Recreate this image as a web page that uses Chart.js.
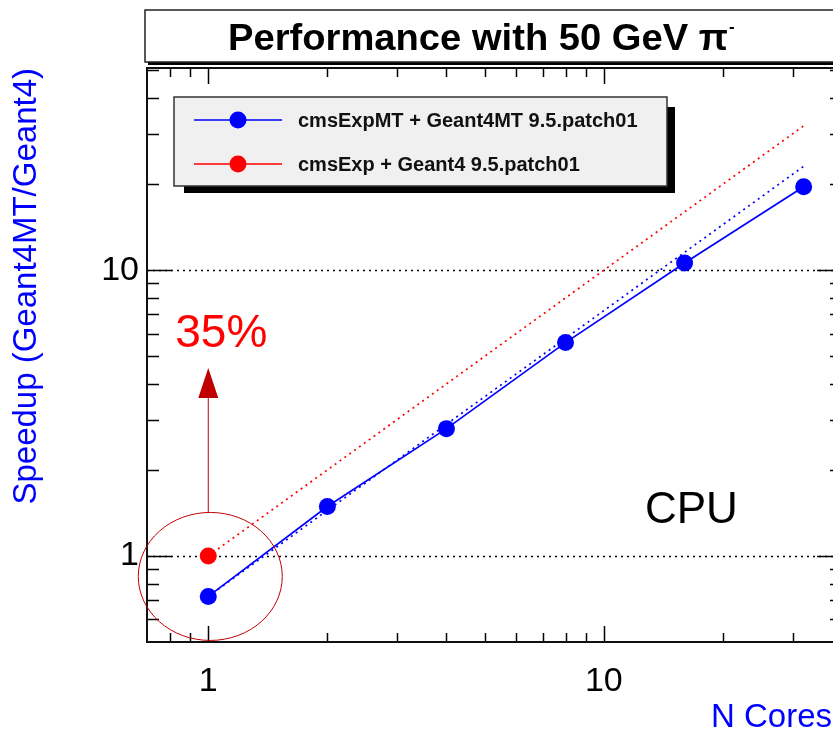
<!DOCTYPE html>
<html>
<head>
<meta charset="utf-8">
<script src="https://cdn.jsdelivr.net/npm/chart.js@4.4.1/dist/chart.umd.min.js"></script>
<style>
  html, body { margin: 0; padding: 0; background: #fff; overflow: hidden; }
  #wrap { width: 861px; height: 730px; }
</style>
</head>
<body>
<div id="wrap"><canvas id="chart" width="861" height="730"></canvas></div>
<script>
// measured speedup vs number of cores
const cores = [1, 2, 4, 8, 16, 32];
const speedupMT = [0.722, 1.49, 2.79, 5.58, 10.6, 19.6];
const seqCores = [1];
const speedupSeq = [1.0];

// ideal (linear) scaling guides, dotted
const idealCores = [1, 32];
const idealSeq = [1, 32];
const idealMT = [0.722, 23.1];

// axes
const xTickLabels = [1, 10];
const yTickLabels = [1, 10];
const xMinorTicks = [0.8, 0.9, 2, 3, 4, 5, 6, 7, 8, 9, 20, 30];
const yMinorTicks = [0.6, 0.7, 0.8, 0.9, 2, 3, 4, 5, 6, 7, 8, 9, 20, 30, 40, 50];

const seriesNames = ["cmsExpMT + Geant4MT 9.5.patch01", "cmsExp + Geant4 9.5.patch01"];
const titleText = "Performance with 50 GeV \u03c0";
const xTitle = "N Cores";

const FONT = '"Liberation Sans", Arial, Helvetica, sans-serif';
const BLUE = "#0000ff";
const RED = "#ff0000";
const DARKRED = "#c00000";

const pairs = (xs, ys) => xs.map((x, i) => ({ x, y: ys[i] }));

function drawTicks(ctx, a, x, y) {
  ctx.strokeStyle = "#000";
  ctx.lineWidth = 1.5;
  ctx.beginPath();
  const xt = (v, len) => {
    const px = Math.round(x.getPixelForValue(v)) + 0.5;
    ctx.moveTo(px, a.bottom); ctx.lineTo(px, a.bottom - len);
    ctx.moveTo(px, a.top); ctx.lineTo(px, a.top + len);
  };
  const yt = (v, len) => {
    const py = Math.round(y.getPixelForValue(v)) + 0.5;
    ctx.moveTo(a.left, py); ctx.lineTo(a.left + len, py);
    ctx.moveTo(a.right, py); ctx.lineTo(a.right - len, py);
  };
  xTickLabels.forEach(v => xt(v, 16));
  xMinorTicks.forEach(v => xt(v, 9));
  yTickLabels.forEach(v => yt(v, 25));
  yMinorTicks.forEach(v => yt(v, 12));
  ctx.stroke();
}

const rootStyle = {
  id: "rootStyle",
  beforeDatasetsDraw(chart) {
    const { ctx, chartArea: a, scales: { y } } = chart;
    ctx.save();
    ctx.strokeStyle = "#000";
    ctx.lineWidth = 1.5;
    ctx.setLineDash([2, 4]);
    yTickLabels.forEach(v => {
      const py = Math.round(y.getPixelForValue(v)) + 0.5;
      ctx.beginPath(); ctx.moveTo(a.left, py); ctx.lineTo(a.right, py); ctx.stroke();
    });
    ctx.restore();
  },
  afterDatasetsDraw(chart) {
    const { ctx, chartArea: a, scales: { x, y } } = chart;
    ctx.save();
    drawTicks(ctx, a, x, y);
    ctx.lineWidth = 2;
    ctx.strokeStyle = "#111";
    ctx.strokeRect(a.left, a.top, a.right - a.left, a.bottom - a.top);
    ctx.restore();
  },
  afterDraw(chart) {
    const { ctx, scales: { x, y } } = chart;
    ctx.save();

    // title box
    const tb = { l: 145, t: 10, r: chart.width + 5, b: 62 };
    ctx.fillStyle = "#000";
    ctx.fillRect(tb.l + 3, tb.t + 3, tb.r - tb.l, tb.b - tb.t);
    ctx.fillStyle = "#fff";
    ctx.fillRect(tb.l, tb.t, tb.r - tb.l, tb.b - tb.t);
    ctx.strokeStyle = "#222";
    ctx.lineWidth = 1.5;
    ctx.strokeRect(tb.l, tb.t, tb.r - tb.l, tb.b - tb.t);
    ctx.fillStyle = "#000";
    ctx.font = "bold 36px " + FONT;
    const w = ctx.measureText(titleText).width;
    ctx.save();
    ctx.translate(228, 50);
    ctx.scale(500 / w, 1);
    ctx.textAlign = "left";
    ctx.textBaseline = "alphabetic";
    ctx.fillText(titleText, 0, 0);
    ctx.font = "bold 16px " + FONT;
    ctx.fillText("-", w + 1, -18);
    ctx.restore();

    // x axis title, right aligned to the visible edge
    ctx.fillStyle = BLUE;
    ctx.font = "33px " + FONT;
    ctx.textAlign = "right";
    ctx.textBaseline = "alphabetic";
    ctx.fillText(xTitle, 832, 727);

    // legend
    const lg = { l: 174, t: 97, w: 493, h: 89 };
    ctx.fillStyle = "#000";
    ctx.fillRect(lg.l + 10, lg.t + 10, lg.w - 2, lg.h - 3);
    ctx.fillStyle = "#f0f0f0";
    ctx.fillRect(lg.l, lg.t, lg.w, lg.h);
    ctx.strokeStyle = "#333";
    ctx.lineWidth = 1.5;
    ctx.strokeRect(lg.l, lg.t, lg.w, lg.h);
    const entries = [
      { name: seriesNames[0], color: BLUE, y: 120 },
      { name: seriesNames[1], color: RED, y: 164 }
    ];
    entries.forEach(e => {
      ctx.strokeStyle = e.color;
      ctx.lineWidth = 1.5;
      ctx.beginPath(); ctx.moveTo(194, e.y); ctx.lineTo(282, e.y); ctx.stroke();
      ctx.fillStyle = e.color;
      ctx.beginPath(); ctx.arc(238, e.y, 8.5, 0, Math.PI * 2); ctx.fill();
      ctx.fillStyle = "#111";
      ctx.font = "bold 20px " + FONT;
      ctx.textAlign = "left";
      ctx.textBaseline = "middle";
      ctx.fillText(e.name, 298, e.y + 1);
    });

    // circled single-thread point and arrow
    const cx = x.getPixelForValue(1) + 2;
    const cy = y.getPixelForValue(0.848);
    ctx.strokeStyle = DARKRED;
    ctx.lineWidth = 1;
    ctx.beginPath(); ctx.ellipse(cx, cy, 72, 64, 0, 0, Math.PI * 2); ctx.stroke();
    const ax = x.getPixelForValue(1);
    const tip = 368;
    ctx.beginPath(); ctx.moveTo(ax, cy - 64); ctx.lineTo(ax, tip + 28); ctx.stroke();
    ctx.fillStyle = DARKRED;
    ctx.beginPath(); ctx.moveTo(ax, tip); ctx.lineTo(ax - 10, tip + 30); ctx.lineTo(ax + 10, tip + 30); ctx.closePath(); ctx.fill();

    ctx.fillStyle = RED;
    ctx.font = "46px " + FONT;
    ctx.textAlign = "center";
    ctx.textBaseline = "alphabetic";
    ctx.fillText("35%", ax + 13, 347);

    ctx.fillStyle = "#000";
    ctx.font = "44px " + FONT;
    ctx.textAlign = "left";
    ctx.fillText("CPU", 645, 523);
    ctx.restore();
  }
};

new Chart(document.getElementById("chart"), {
  type: "line",
  data: {
    datasets: [
      {
        label: seriesNames[0],
        data: pairs(cores, speedupMT),
        borderColor: BLUE,
        backgroundColor: BLUE,
        borderWidth: 1.7,
        pointRadius: 8.5,
        pointBorderWidth: 0,
        order: 1
      },
      {
        label: seriesNames[1],
        data: pairs(seqCores, speedupSeq),
        borderColor: RED,
        backgroundColor: RED,
        showLine: false,
        pointRadius: 8.5,
        pointBorderWidth: 0,
        order: 0
      },
      {
        label: "ideal MT",
        data: pairs(idealCores, idealMT),
        borderColor: BLUE,
        borderWidth: 1.7,
        borderDash: [2, 4],
        pointRadius: 0,
        order: 3
      },
      {
        label: "ideal",
        data: pairs(idealCores, idealSeq),
        borderColor: RED,
        borderWidth: 1.7,
        borderDash: [2, 4],
        pointRadius: 0,
        order: 2
      }
    ]
  },
  options: {
    responsive: false,
    animation: false,
    layout: { padding: { top: 68, right: 9, left: 0, bottom: 0 } },
    plugins: { legend: { display: false }, tooltip: { enabled: false } },
    scales: {
      x: {
        type: "logarithmic",
        min: 0.7,
        max: 40,
        grid: { display: false, drawTicks: false },
        border: { display: false },
        ticks: {
          autoSkip: false,
          maxRotation: 0,
          padding: 19,
          color: "#000",
          font: { family: FONT, size: 34 },
          callback: v => xTickLabels.includes(v) ? String(v) : ""
        },
        title: { display: false },
        afterFit: s => { s.height = 88; }
      },
      y: {
        type: "logarithmic",
        min: 0.5,
        max: 51,
        grid: { display: false, drawTicks: false },
        border: { display: false },
        ticks: {
          autoSkip: false,
          padding: 8,
          color: "#000",
          font: { family: FONT, size: 34 },
          callback: v => yTickLabels.includes(v) ? String(v) : ""
        },
        title: {
          display: true,
          text: "Speedup (Geant4MT/Geant4)",
          align: "end",
          color: BLUE,
          font: { family: FONT, size: 33 },
          padding: { top: 7, bottom: 0 }
        },
        afterFit: s => { s.width = 147; }
      }
    }
  },
  plugins: [rootStyle]
});
</script>
</body>
</html>
